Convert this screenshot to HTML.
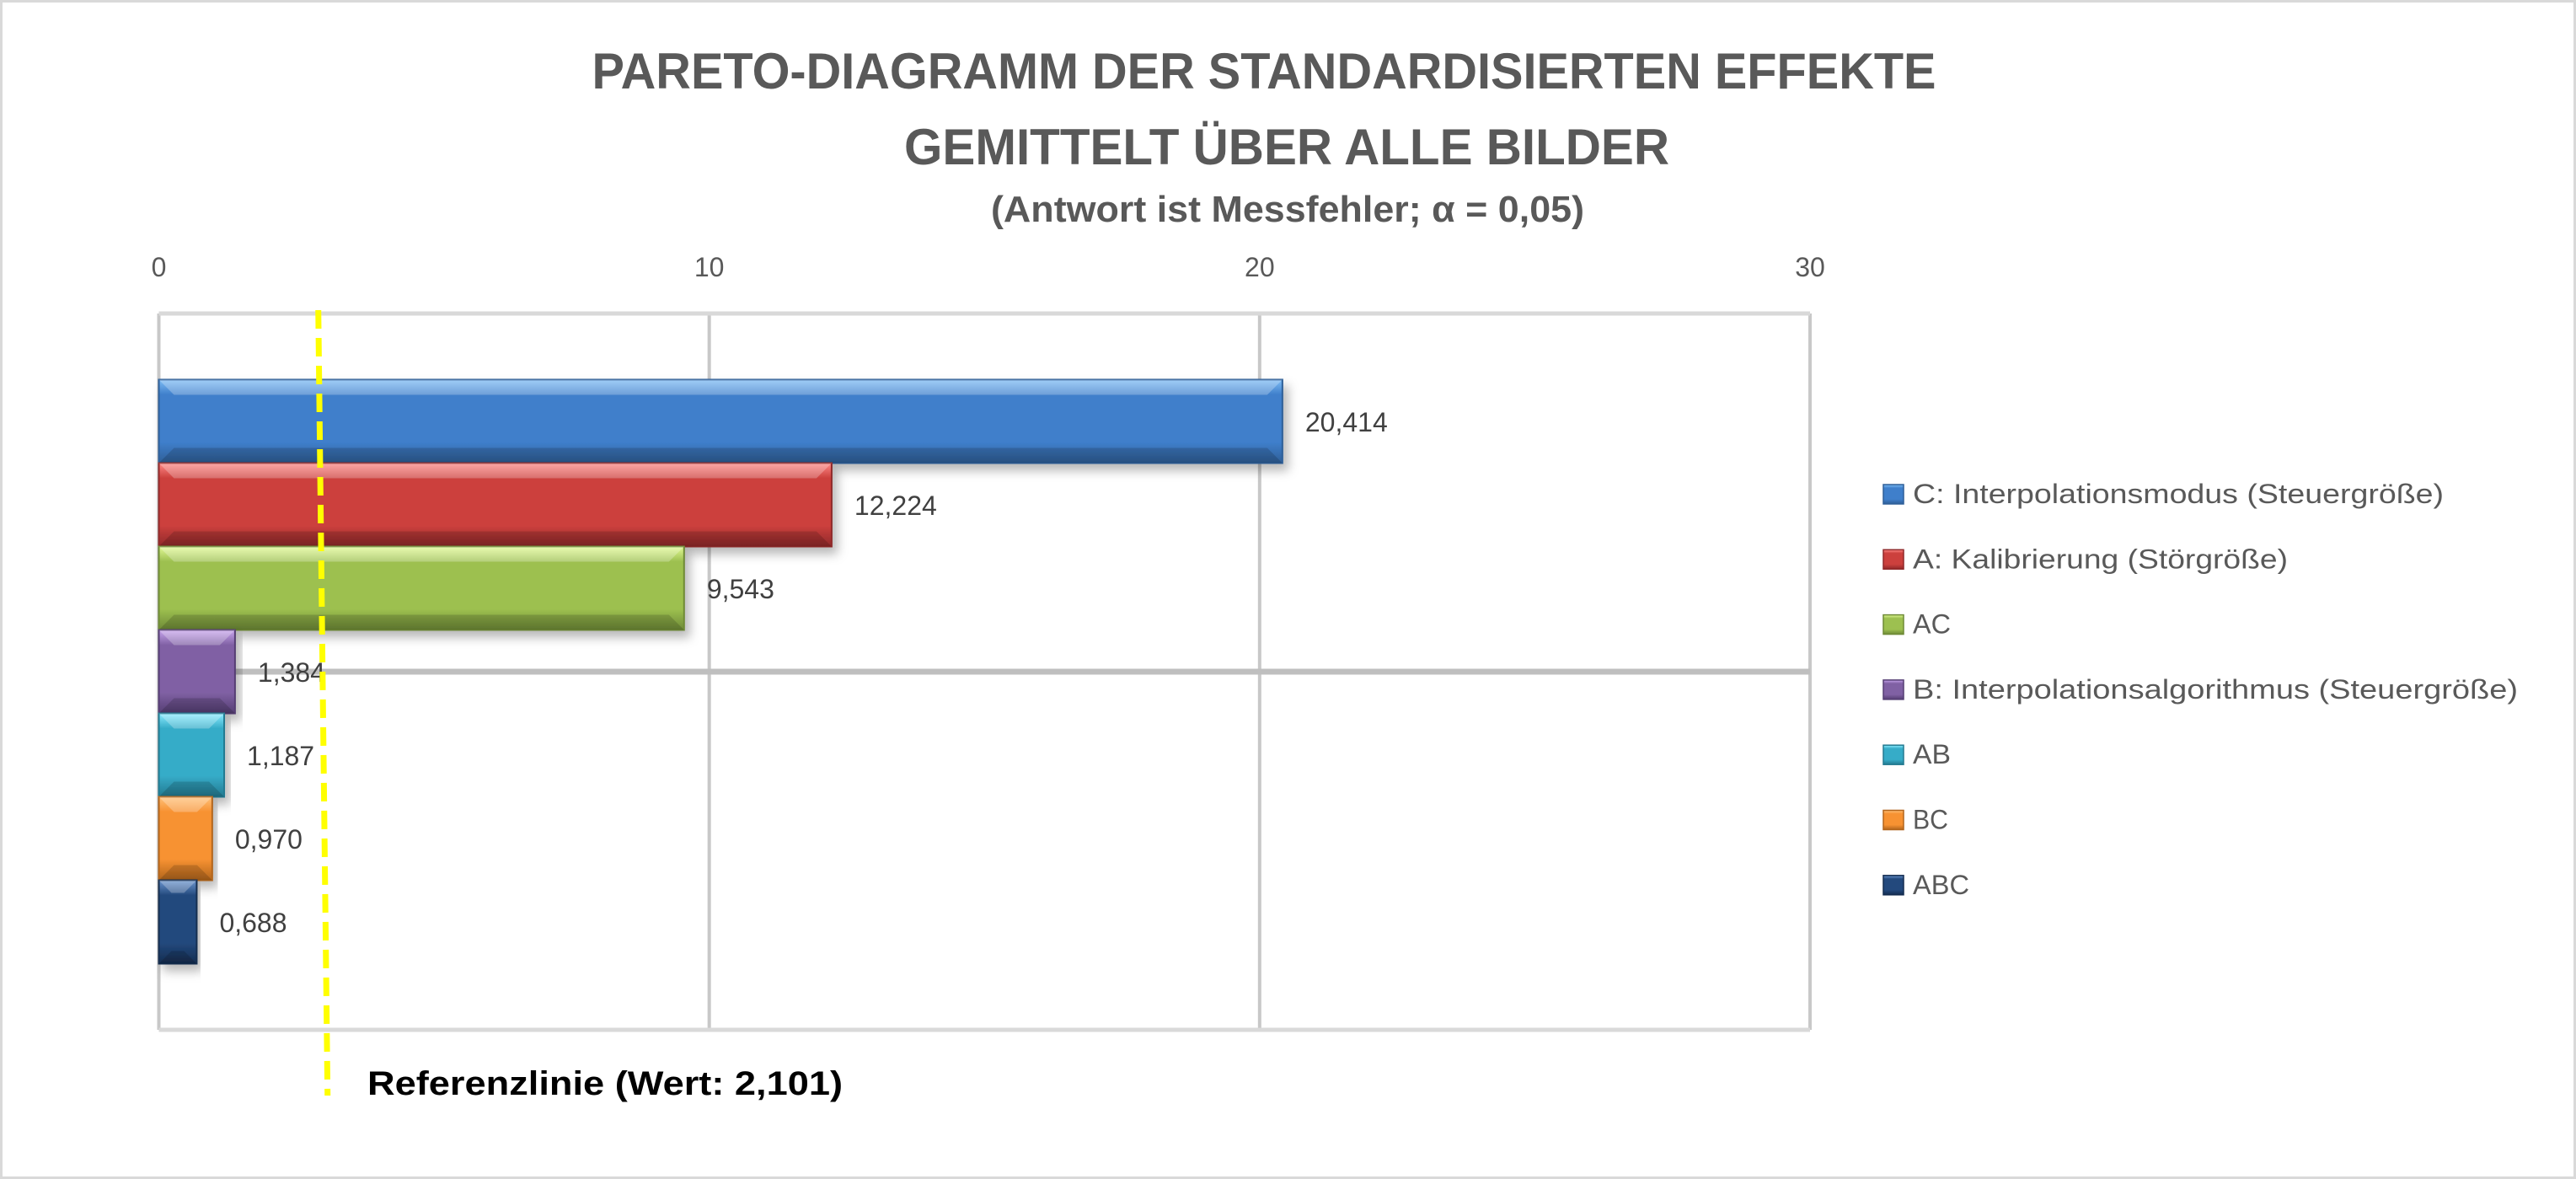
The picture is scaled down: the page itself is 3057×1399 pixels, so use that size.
<!DOCTYPE html>
<html><head><meta charset="utf-8"><style>
html,body{margin:0;padding:0;background:#fff;}
svg{display:block;font-family:"Liberation Sans",sans-serif;}
</style></head><body>
<svg id="chart" width="3057" height="1399" viewBox="0 0 3057 1399" xmlns="http://www.w3.org/2000/svg">
<defs>
<filter id="sh" x="-5%" y="-10%" width="115%" height="140%"><feDropShadow dx="6" dy="8" stdDeviation="6" flood-color="#000" flood-opacity="0.28"/></filter>
</defs>
<rect x="1.5" y="1.5" width="3054" height="1396" fill="#fff" stroke="#d9d9d9" stroke-width="3"/>
<text x="1500" y="105" text-anchor="middle" font-size="60" font-weight="bold" fill="#595959" textLength="1595" lengthAdjust="spacingAndGlyphs">PARETO-DIAGRAMM DER STANDARDISIERTEN EFFEKTE</text>
<text x="1527" y="195" text-anchor="middle" font-size="60" font-weight="bold" fill="#595959" textLength="908" lengthAdjust="spacingAndGlyphs">GEMITTELT ÜBER ALLE BILDER</text>
<text x="1528" y="263" text-anchor="middle" font-size="44" font-weight="bold" fill="#595959" textLength="704" lengthAdjust="spacingAndGlyphs">(Antwort ist Messfehler; α = 0,05)</text>
<g id="grid"></g>
<g id="bars"></g>
<g id="labels"></g>
<g id="ref"></g>
<g id="legend"></g>
</svg>
<script>
const categories = ["C: Interpolationsmodus (Steuergröße)","A: Kalibrierung (Störgröße)","AC","B: Interpolationsalgorithmus (Steuergröße)","AB","BC","ABC"];
const values = [20.414, 12.224, 9.543, 1.384, 1.187, 0.970, 0.688];
const valueLabels = ["20,414","12,224","9,543","1,384","1,187","0,970","0,688"];
const ticks = [0, 10, 20, 30];
const refValue = 2.101;
const refLabel = "Referenzlinie (Wert: 2,101)";

const colors = [["#7fbdf5","#3f7fcb","#2f5f98"],["#ff8a87","#cc403d","#90292a"],["#e2fa96","#9dc050","#6e8a36"],["#c9a6ee","#8061a4","#553e73"],["#8cecff","#36acc8","#237a91"],["#ffc27a","#f79232","#b2651c"],["#6c96cf","#23497d","#142d50"]];
const legendW = [630,445,45,718,45,42,67];
const NS="http://www.w3.org/2000/svg";
const svg=document.getElementById('chart');
const X0=188.5, X1=2148, TOP=372, BOT=1222, XMAX=30;
const x=v=>X0+(v/XMAX)*(X1-X0);
const bh=99, by0=TOP+(BOT-TOP-values.length*bh)/2;
const y=i=>by0+i*bh;
function mk(tag,attrs,parent){const e=document.createElementNS(NS,tag);for(const k in attrs)e.setAttribute(k,attrs[k]);parent.appendChild(e);return e;}
const defs=svg.querySelector('defs');
colors.forEach((c,i)=>{const g=mk('linearGradient',{id:'g'+i,x1:0,y1:0,x2:0,y2:1},defs);
[[0,c[0]],[0.18,c[1]],[0.75,c[1]],[1,c[2]]].forEach(s=>mk('stop',{offset:s[0],'stop-color':s[1]},g));});
const grid=document.getElementById('grid');
ticks.forEach(t=>{
 const l=mk('line',{x1:x(t),x2:x(t),y1:TOP,y2:BOT,stroke:'#c8c8c8','stroke-width':4},grid);
 
 
 const tx=mk('text',{x:x(t),y:328,'text-anchor':'middle','font-size':32,fill:'#595959'},grid);
 tx.textContent=String(t);
 
 
});
[TOP,(TOP+BOT)/2,BOT].forEach((yy,k)=>{
 const l=mk('line',{x1:X0,x2:X1,y1:yy,y2:yy,stroke:k==1?'#bfbfbf':'#d9d9d9','stroke-width':k==1?7:5},grid);
 
 
});
const bars=document.getElementById('bars'), labels=document.getElementById('labels');
values.forEach((v,i)=>{
 const w=x(v)-X0, yy=y(i);
 const g=mk('g',{filter:'url(#sh)'},bars);
 const r=mk('rect',{x:X0,y:yy,width:w,height:bh,fill:'url(#g'+i+')',stroke:colors[i][2],'stroke-width':2},g);
 
 
 const b=Math.min(18,w/3);
 mk('polygon',{points:`${X0},${yy} ${X0+w},${yy} ${X0+w-b},${yy+b} ${X0+b},${yy+b}`,fill:'#fff','fill-opacity':0.25},g);
 mk('polygon',{points:`${X0},${yy+bh} ${X0+w},${yy+bh} ${X0+w-b},${yy+bh-b} ${X0+b},${yy+bh-b}`,fill:'#000','fill-opacity':0.15},g);
 const t=mk('text',{x:x(v)+27,y:yy+bh/2+12,'font-size':32,fill:'#404040'},labels);
 t.textContent=valueLabels[i];
 
 
});
const ref=document.getElementById('ref');
const rx=x(refValue)+52;
const rl=mk('line',{x1:rx,y1:368,x2:rx+11,y2:1300,stroke:'#ffff00','stroke-width':7,'stroke-dasharray':'22 11'},ref);


const rt=mk('text',{x:436,y:1299,'font-size':40,'font-weight':'bold',fill:'#000',textLength:564,lengthAdjust:'spacingAndGlyphs'},ref);
rt.textContent=refLabel;


const leg=document.getElementById('legend');
categories.forEach((c,i)=>{
 const yy=597+i*77.3;
 const m=mk('rect',{x:2235,y:yy-22,width:24,height:23,fill:'url(#g'+i+')',stroke:colors[i][2],'stroke-width':1.5},leg);
 
 
 const t=mk('text',{x:2270,y:yy,'font-size':32,fill:'#595959',textLength:legendW[i],lengthAdjust:'spacingAndGlyphs'},leg);
 t.textContent=c;
 
 
});
</script>
</body></html>
